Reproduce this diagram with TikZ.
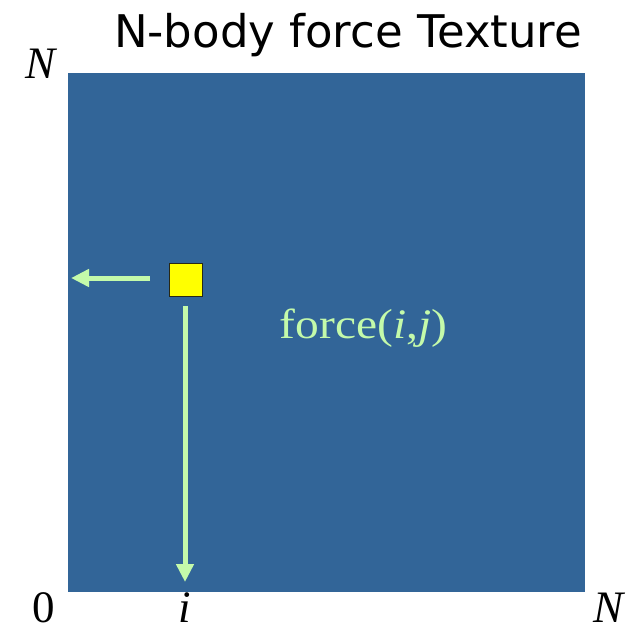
\documentclass[tikz,border=0pt]{standalone}
\usepackage{fontspec}
\setmainfont{Liberation Serif}
\newfontfamily\titlefont{DejaVu Sans}
\usetikzlibrary{arrows.meta}
\definecolor{texblue}{RGB}{50,101,152}
\definecolor{arrgreen}{RGB}{196,250,170}
\definecolor{sqyellow}{RGB}{255,255,0}
\definecolor{sqborder}{RGB}{40,40,20}
\begin{document}
\begin{tikzpicture}[x=1pt,y=-1pt,
  lbl/.style={inner sep=0pt,anchor=base,font=\fontsize{45}{45}\selectfont},
  garrow/.style={draw=arrgreen,line width=5pt,-{Triangle[width=17pt,length=18pt]}}]
\useasboundingbox (0,0) rectangle (631,630);
\fill[white] (0,0) rectangle (631,630);
\node[fill=texblue, minimum width=517pt, minimum height=519pt, inner sep=0pt, anchor=north west] (tex) at (68,73) {};
\node[font=\titlefont\fontsize{45}{45}\selectfont, anchor=base, inner sep=0pt] (title) at (348,47) {N-body force Texture};
\node[lbl] (ntop) at (42,78) {\textit{N}};
\node[lbl] (zero) at (44,622) {0};
\node[lbl] (ilbl) at (185,622) {\textit{i}};
\node[lbl] (nright) at (610,622) {\textit{N}};
\node[draw=sqborder, line width=1.5pt, fill=sqyellow, minimum size=33pt, inner sep=0pt] (cell) at (186,280) {};
\coordinate (ls) at (150,278);
\coordinate (lt) at (71,278);
\coordinate (ds) at (185,306);
\coordinate (dt) at (185,582);
\draw[garrow] (ls) -- (lt);
\draw[garrow] (ds) -- (dt);
\node[anchor=base, text=arrgreen, inner sep=0pt, xscale=1.13, font=\fontsize{42}{42}\selectfont] (force) at (363.5,338) {force(\textit{i},\textit{j})};
\end{tikzpicture}
\end{document}
